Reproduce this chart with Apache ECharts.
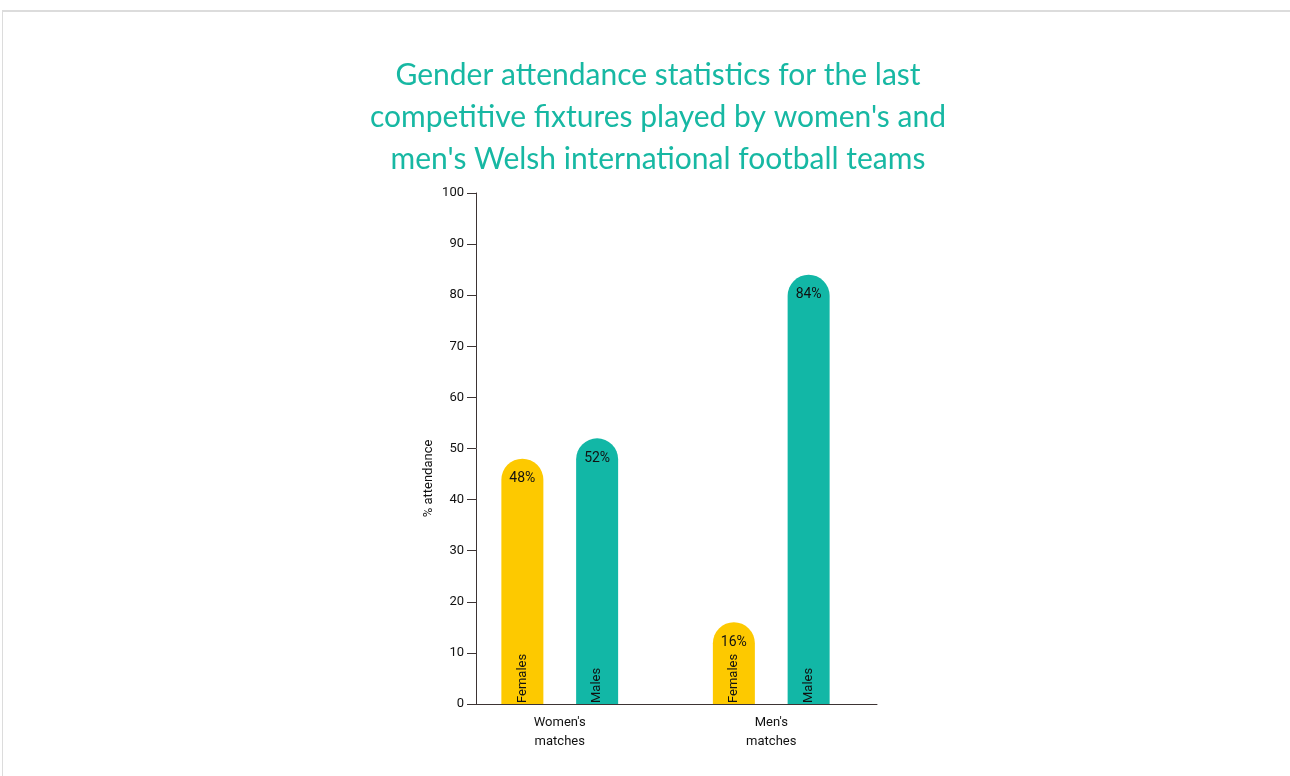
<!DOCTYPE html>
<html>
<head>
<meta charset="utf-8">
<script src="https://cdn.jsdelivr.net/npm/echarts@6/dist/echarts.min.js"></script>
<style>
html,body{margin:0;padding:0;background:#fff;}
#frame{position:absolute;left:2px;top:10px;width:1300px;height:780px;border-top:2px solid #dcdcdc;border-left:1px solid #dcdcdc;}
#chart{position:absolute;left:0;top:0;width:1290px;height:776px;}
</style>
</head>
<body>
<div id="frame"></div>
<div id="chart"></div>
<script>
const titleText = "Gender attendance statistics for the last\ncompetitive fixtures played by women's and\nmen's Welsh international football teams";
const categories = ["Women's\nmatches", "Men's\nmatches"];
const seriesNames = ["Females", "Males"];
const femalesValues = [48, 16];
const malesValues = [52, 84];
const yTicks = [0, 10, 20, 30, 40, 50, 60, 70, 80, 90, 100];
const yAxisName = "% attendance";

const YELLOW = '#fdc900';
const TEAL = '#12b7a6';
const FONT = 'Roboto';

const chart = echarts.init(document.getElementById('chart'), null, {renderer: 'canvas'});

function barSeries(name, data, color, xi, labelKind) {
  const label = labelKind === 'value' ? {
    show: true, position: 'insideTop', distance: 13,
    formatter: p => p.value + '%', color: '#111', fontSize: 14, fontFamily: FONT
  } : {
    show: true, position: 'insideBottom', distance: 1, rotate: 90,
    align: 'left', verticalAlign: 'middle',
    formatter: p => p.seriesName, color: '#111', fontSize: 13, fontFamily: FONT
  };
  return {
    name: name, type: 'bar', data: data, xAxisIndex: xi, yAxisIndex: xi,
    barWidth: 42, barGap: '78%',
    itemStyle: labelKind === 'value' ? {color: color, borderRadius: [21, 21, 0, 0]} : {color: 'rgba(0,0,0,0)'},
    label: label, silent: true, animation: false, z: labelKind === 'value' ? 2 : 3
  };
}

const option = {
  animation: false,
  title: {
    text: titleText, left: 653, top: 49, textAlign: 'center',
    textStyle: {color: '#17b8a3', fontSize: 30, fontWeight: 'normal', fontFamily: 'Lato', lineHeight: 42}
  },
  grid: [
    {left: 454, right: 413, top: 193, bottom: 72},
    {left: 454, right: 413, top: 193, bottom: 72},
    {left: 476, right: 413, top: 193, bottom: 72}
  ],
  xAxis: [
    {type: 'category', gridIndex: 0, data: categories,
     axisLine: {show: false}, axisTick: {show: false},
     axisLabel: {color: '#111', fontSize: 13, fontFamily: FONT, lineHeight: 19, margin: 9}},
    {type: 'category', gridIndex: 1, data: categories, show: false},
    {type: 'value', gridIndex: 2, min: 0, max: 1,
     axisLine: {show: true, lineStyle: {color: '#3d3434', width: 1}},
     axisTick: {show: false}, axisLabel: {show: false}, splitLine: {show: false}}
  ],
  yAxis: [
    {type: 'value', gridIndex: 0, min: 0, max: 100, show: false},
    {type: 'value', gridIndex: 1, min: 0, max: 100, show: false},
    {type: 'value', gridIndex: 2, min: yTicks[0], max: yTicks[yTicks.length - 1], interval: 10,
     name: yAxisName, nameLocation: 'middle', nameGap: 41, nameRotate: 90,
     nameTextStyle: {color: '#111', fontSize: 13, fontFamily: FONT, padding: [0, 60, 0, 0]},
     axisLine: {show: true, lineStyle: {color: '#3d3434', width: 1}},
     axisTick: {show: true, length: 9, lineStyle: {color: '#3d3434'}},
     axisLabel: {color: '#111', fontSize: 13, fontFamily: FONT, margin: 12,
       formatter: v => String(v),
       rich: {}},
     splitLine: {show: false}}
  ],
  series: [
    barSeries(seriesNames[0], femalesValues, YELLOW, 0, 'value'),
    barSeries(seriesNames[1], malesValues, TEAL, 0, 'value'),
    barSeries(seriesNames[0], femalesValues, YELLOW, 1, 'name'),
    barSeries(seriesNames[1], malesValues, TEAL, 1, 'name')
  ]
};
chart.setOption(option);
</script>
</body>
</html>
